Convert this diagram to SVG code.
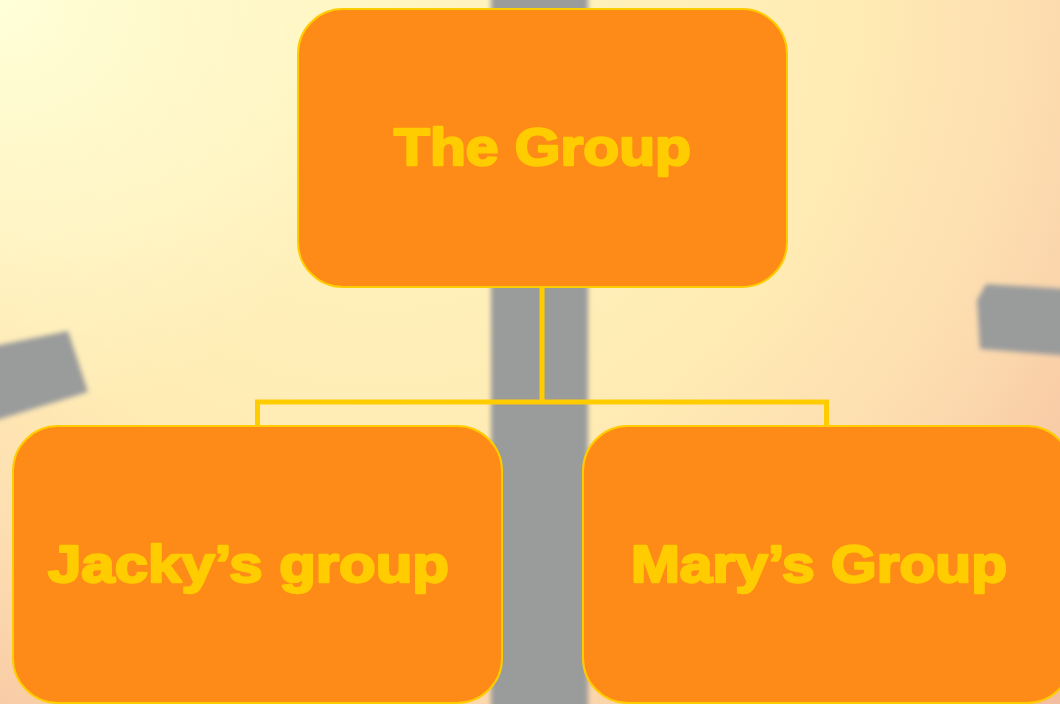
<svg xmlns="http://www.w3.org/2000/svg" width="1060" height="704" viewBox="0 0 1060 704">
  <defs>
    <radialGradient id="bg" gradientUnits="userSpaceOnUse" cx="380" cy="0" r="950">
      <stop offset="0" stop-color="#FFF6C2"/>
      <stop offset="0.5" stop-color="#FFEBB4"/>
      <stop offset="0.7" stop-color="#FDDDB0"/>
      <stop offset="0.84" stop-color="#F8CCA6"/>
      <stop offset="1" stop-color="#F2BE9F"/>
    </radialGradient>
    <radialGradient id="glow" gradientUnits="userSpaceOnUse" cx="0" cy="0" r="420">
      <stop offset="0" stop-color="#FFFFD8" stop-opacity="1"/>
      <stop offset="1" stop-color="#FFFFD8" stop-opacity="0"/>
    </radialGradient>
    <filter id="blur" x="-20%" y="-20%" width="140%" height="140%">
      <feGaussianBlur stdDeviation="2.5"/>
    </filter>
    <style>
      .node { fill: #FE8A17; stroke: #FFCC00; stroke-width: 2; }
      .label { fill: #FFCC00; stroke: #FFCC00; stroke-width: 2.4; stroke-linejoin: round; font-family: "Liberation Sans", Arial, sans-serif; font-weight: bold; font-size: 52px; }
      .conn { fill: none; stroke: #FFCC00; stroke-width: 5; }
    </style>
  </defs>

  <g id="background">
    <rect x="0" y="0" width="1060" height="704" fill="url(#bg)"/>
    <rect x="0" y="0" width="1060" height="704" fill="url(#glow)"/>
    <g filter="url(#blur)" fill="#9A9B9B">
      <rect x="491" y="-10" width="97" height="730"/>
      <polygon points="-10,347 68,331 88,392 -10,422"/>
      <polygon points="986,284 1070,289 1070,356 980,349 977,300"/>
    </g>
  </g>

  <g id="connectors">
    <line class="conn" x1="542" y1="287" x2="542" y2="402"/>
    <polyline class="conn" points="257.5,426 257.5,402 826.5,402 826.5,426"/>
  </g>

  <g id="node-the-group">
    <rect class="node" x="298" y="9" width="489" height="278" rx="45" ry="45"/>
    <text class="label" x="394" y="165" textLength="297" lengthAdjust="spacingAndGlyphs">The Group</text>
  </g>

  <g id="node-jacky">
    <rect class="node" x="13" y="426" width="489" height="277" rx="45" ry="45"/>
    <text class="label" x="48" y="582" textLength="401" lengthAdjust="spacingAndGlyphs">Jacky’s group</text>
  </g>

  <g id="node-mary">
    <rect class="node" x="583" y="426" width="489" height="277" rx="45" ry="45"/>
    <text class="label" x="631" y="582" textLength="376" lengthAdjust="spacingAndGlyphs">Mary’s Group</text>
  </g>
</svg>
